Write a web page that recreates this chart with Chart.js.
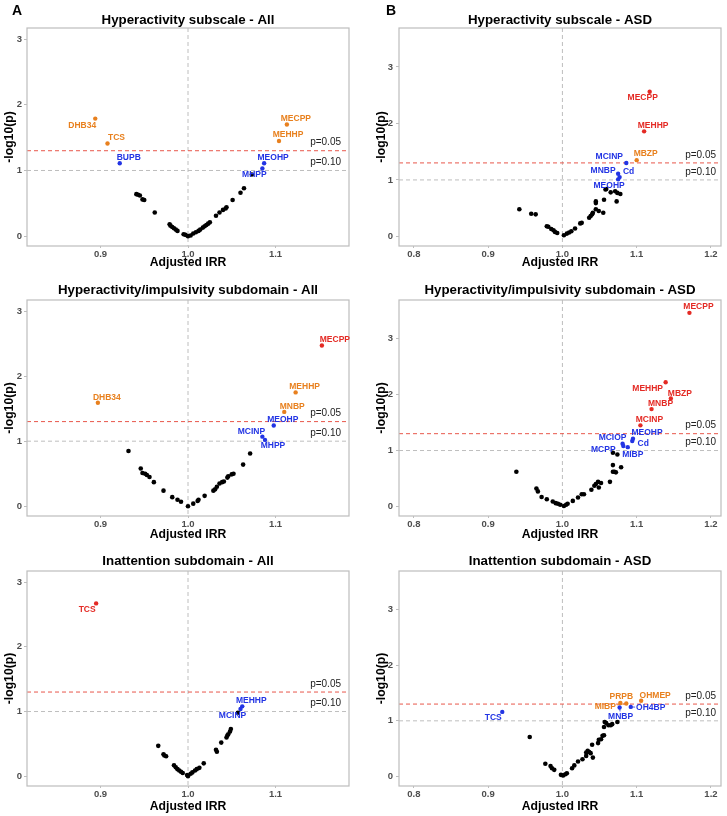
<!DOCTYPE html>
<html>
<head>
<meta charset="utf-8">
<script src="https://cdn.jsdelivr.net/npm/chart.js@4.4.1/dist/chart.umd.min.js"></script>
<style>
  body { margin: 0; background: #fff; }
  #fig { position: relative; width: 727px; height: 816px; }
  #fig canvas { position: absolute; }
  .tag { position: absolute; font: bold 14px 'Liberation Sans', Arial, sans-serif; line-height: 1; color: #000; }
</style>
</head>
<body>
<div id="fig">
  <canvas id="c0" width="363" height="272" style="left:0;top:0"></canvas>
  <canvas id="c1" width="364" height="272" style="left:363px;top:0"></canvas>
  <canvas id="c2" width="363" height="272" style="left:0;top:272px"></canvas>
  <canvas id="c3" width="364" height="272" style="left:363px;top:272px"></canvas>
  <canvas id="c4" width="363" height="272" style="left:0;top:544px"></canvas>
  <canvas id="c5" width="364" height="272" style="left:363px;top:544px"></canvas>
  <div class="tag" style="left:12px;top:3px">A</div>
  <div class="tag" style="left:386px;top:3px">B</div>
</div>
<script>
// ---- data ----
const irrTicksAll = [0.9, 1.0, 1.1];
const irrTicksAsd = [0.8, 0.9, 1.0, 1.1, 1.2];
const logpTicks = [0, 1, 2, 3];
const pCutoffs = [0.05, 0.10];
const pCutoffLabels = ["p=0.05", "p=0.10"];

// Hyperactivity subscale - All
const hypAllIRR = [0.941, 0.943, 0.945, 0.948, 0.950, 0.962, 0.979, 0.980, 0.982, 0.984, 0.986, 0.988, 0.995, 0.997, 1.000, 1.003, 1.006, 1.009, 1.012, 1.014, 1.017, 1.019, 1.021, 1.023, 1.025, 1.032, 1.036, 1.040, 1.043, 1.044, 1.051, 1.060, 1.064, 1.073];
const hypAllLogP = [0.64, 0.63, 0.62, 0.56, 0.55, 0.36, 0.18, 0.16, 0.14, 0.12, 0.10, 0.08, 0.03, 0.02, 0.00, 0.01, 0.04, 0.06, 0.08, 0.10, 0.13, 0.15, 0.17, 0.19, 0.21, 0.31, 0.36, 0.40, 0.42, 0.44, 0.55, 0.66, 0.73, 0.94];
const hypAllLabels = ["DHB34", "TCS", "BUPB", "MECPP", "MEHHP", "MEOHP", "MHPP"];
const hypAllLabIRR = [0.894, 0.908, 0.922, 1.113, 1.104, 1.087, 1.085];
const hypAllLabLogP = [1.79, 1.41, 1.11, 1.70, 1.45, 1.11, 1.03];
const hypAllLabGroup = ["p05", "p05", "p10", "p05", "p05", "p10", "p10"];

// Hyperactivity subscale - ASD
const hypAsdIRR = [0.942, 0.958, 0.964, 0.979, 0.981, 0.985, 0.988, 0.990, 0.993, 1.002, 1.006, 1.009, 1.012, 1.017, 1.024, 1.026, 1.036, 1.038, 1.040, 1.041, 1.045, 1.045, 1.045, 1.049, 1.055, 1.056, 1.058, 1.059, 1.065, 1.071, 1.073, 1.074, 1.078];
const hypAsdLogP = [0.48, 0.40, 0.39, 0.18, 0.17, 0.13, 0.11, 0.08, 0.06, 0.02, 0.05, 0.07, 0.09, 0.14, 0.23, 0.24, 0.33, 0.36, 0.39, 0.42, 0.48, 0.62, 0.59, 0.45, 0.42, 0.65, 0.83, 0.84, 0.78, 0.80, 0.62, 0.77, 0.75];
const hypAsdLabels = ["MECPP", "MEHHP", "MBZP", "MCINP", "MNBP", "Cd", "MEOHP"];
const hypAsdLabIRR = [1.1175, 1.110, 1.100, 1.086, 1.075, 1.077, 1.075];
const hypAsdLabLogP = [2.56, 1.86, 1.35, 1.30, 1.11, 1.05, 1.01];
const hypAsdLabGroup = ["q", "q", "p05", "p10", "p10", "p10", "p10"];

// Hyperactivity/impulsivity subdomain - All
const impAllIRR = [0.932, 0.946, 0.948, 0.951, 0.953, 0.956, 0.961, 0.972, 0.982, 0.988, 0.992, 1.000, 1.006, 1.011, 1.012, 1.019, 1.029, 1.031, 1.033, 1.036, 1.039, 1.041, 1.045, 1.046, 1.050, 1.052, 1.063, 1.071];
const impAllLogP = [0.85, 0.58, 0.51, 0.50, 0.48, 0.45, 0.37, 0.24, 0.14, 0.10, 0.07, 0.00, 0.04, 0.08, 0.10, 0.16, 0.24, 0.26, 0.30, 0.35, 0.37, 0.38, 0.44, 0.46, 0.49, 0.50, 0.64, 0.81];
const impAllLabels = ["MECPP", "MEHHP", "MNBP", "MEOHP", "MCINP", "MHPP", "DHB34"];
const impAllLabIRR = [1.153, 1.123, 1.110, 1.098, 1.085, 1.088, 0.897];
const impAllLabLogP = [2.47, 1.75, 1.45, 1.24, 1.07, 1.02, 1.59];
const impAllLabGroup = ["q", "p05", "p05", "p10", "p10", "p10", "p05"];

// Hyperactivity/impulsivity subdomain - ASD
const impAsdIRR = [0.938, 0.965, 0.967, 0.972, 0.979, 0.987, 0.991, 0.994, 0.997, 1.002, 1.005, 1.007, 1.014, 1.021, 1.026, 1.029, 1.039, 1.043, 1.045, 1.048, 1.049, 1.052, 1.064, 1.068, 1.068, 1.070, 1.072, 1.079, 1.068, 1.074];
const impAsdLogP = [0.62, 0.32, 0.27, 0.17, 0.13, 0.09, 0.06, 0.05, 0.03, 0.01, 0.03, 0.05, 0.10, 0.16, 0.22, 0.22, 0.30, 0.37, 0.40, 0.44, 0.34, 0.42, 0.44, 0.74, 0.62, 0.62, 0.61, 0.70, 0.96, 0.93];
const impAsdLabels = ["MECPP", "MEHHP", "MBZP", "MNBP", "MCINP", "MEOHP", "Cd", "MCIOP", "MCPP", "MIBP"];
const impAsdLabIRR = [1.171, 1.139, 1.146, 1.120, 1.105, 1.095, 1.094, 1.081, 1.082, 1.088];
const impAsdLabLogP = [3.46, 2.22, 1.93, 1.74, 1.45, 1.21, 1.17, 1.12, 1.08, 1.06];
const impAsdLabGroup = ["q", "q", "q", "q", "q", "p10", "p10", "p10", "p10", "p10"];

// Inattention subdomain - All
const inaAllIRR = [0.966, 0.972, 0.973, 0.975, 0.984, 0.986, 0.988, 0.990, 0.992, 0.994, 0.999, 1.000, 1.003, 1.005, 1.008, 1.010, 1.013, 1.018, 1.032, 1.033, 1.038, 1.044, 1.045, 1.046, 1.048, 1.049, 1.057];
const inaAllLogP = [0.47, 0.34, 0.32, 0.31, 0.17, 0.14, 0.11, 0.09, 0.07, 0.05, 0.02, 0.00, 0.04, 0.06, 0.09, 0.11, 0.13, 0.20, 0.41, 0.38, 0.52, 0.60, 0.63, 0.65, 0.69, 0.73, 0.98];
const inaAllLabels = ["TCS", "MEHHP", "MCINP"];
const inaAllLabIRR = [0.895, 1.062, 1.060];
const inaAllLabLogP = [2.67, 1.08, 1.04];
const inaAllLabGroup = ["q", "p10", "p10"];

// Inattention subdomain - ASD
const inaAsdIRR = [0.956, 0.977, 0.984, 0.986, 0.989, 0.998, 1.001, 1.004, 1.006, 1.013, 1.016, 1.021, 1.027, 1.032, 1.034, 1.036, 1.038, 1.032, 1.040, 1.041, 1.048, 1.049, 1.052, 1.054, 1.056, 1.057, 1.059, 1.056, 1.062, 1.065, 1.067, 1.074];
const inaAsdLogP = [0.71, 0.23, 0.19, 0.15, 0.12, 0.03, 0.02, 0.04, 0.06, 0.15, 0.20, 0.27, 0.31, 0.43, 0.46, 0.44, 0.42, 0.37, 0.57, 0.34, 0.60, 0.66, 0.67, 0.73, 0.74, 0.98, 0.96, 0.89, 0.92, 0.92, 0.94, 0.98];
const inaAsdLabels = ["TCS", "OHMEP", "PRPB", "MIBP", "MNBP", "OH4BP"];
const inaAsdLabIRR = [0.919, 1.106, 1.078, 1.086, 1.077, 1.092];
const inaAsdLabLogP = [1.16, 1.36, 1.32, 1.31, 1.24, 1.25];
const inaAsdLabGroup = ["p10", "p05", "p05", "p05", "p10", "p10"];

// ---- label placement (px offset of label centre from its point, optional leader line) ----
const hypAllNudge = [[-13, 7], [9, -6], [9, -6], [9, -6], [9, -6], [9, -6], [-8, 6]];
const hypAsdNudge = [[-7, 6], [9, -6], [9, -6], [-17, -6], [-15, -3], [9, -5], [-9, 6]];
const impAllNudge = [[13, -6], [9, -6], [8, -5], [9, -6], [-11, -5], [8, 6], [9, -5]];
const impAsdNudge = [[9, -6], [-18, 6], [9, -5], [9, -5], [9, -6], [14, -6], [11, 3], [-10, -6], [-20, 4], [5, 7]];
const inaAllNudge = [[-9, 6], [9, -6], [-8, 7]];
const inaAsdNudge = [[-9, 6], [14, -5], [1, -6], [-21, 3, true], [1, 9, true], [20, 1, true]];

// ---- styling ----
const FONT = "'Liberation Sans', Arial, sans-serif";
const groupColors = { q: "#E42A24", p05: "#E8801E", p10: "#2234E4" };
const lineGray = "#BEBEBE";
const lineRed = "#E8574B";

const rows = [
  { chartTop: 28, chartBottom: 246, titleMid: 20 },
  { chartTop: 28, chartBottom: 244, titleMid: 18 },
  { chartTop: 27, chartBottom: 242, titleMid: 17 },
];
const cols = [
  { yW: 27, padLeft: 0, padRight: 14, tickPad: 2, titlePad: 2.7, pInset: 8 },
  { yW: 28, padLeft: 8, padRight: 6, tickPad: 3, titlePad: 3.5, pInset: 5 },
];
const ranges = {
  all: { xMin: 0.816, xMax: 1.184, yMin: -0.15, yMax: 3.17, ticks: irrTicksAll },
  asd: { xMin: 0.78, xMax: 1.2135, yMin: -0.17, yMax: 3.69, ticks: irrTicksAsd },
};

const panels = [
  { id: "c0", title: "Hyperactivity subscale - All", set: "all", row: 0, col: 0,
    irr: hypAllIRR, logp: hypAllLogP, lab: hypAllLabels, labIRR: hypAllLabIRR, labLogP: hypAllLabLogP, labGroup: hypAllLabGroup, nudge: hypAllNudge },
  { id: "c1", title: "Hyperactivity subscale - ASD", set: "asd", row: 0, col: 1,
    irr: hypAsdIRR, logp: hypAsdLogP, lab: hypAsdLabels, labIRR: hypAsdLabIRR, labLogP: hypAsdLabLogP, labGroup: hypAsdLabGroup, nudge: hypAsdNudge },
  { id: "c2", title: "Hyperactivity/impulsivity subdomain - All", set: "all", row: 1, col: 0,
    irr: impAllIRR, logp: impAllLogP, lab: impAllLabels, labIRR: impAllLabIRR, labLogP: impAllLabLogP, labGroup: impAllLabGroup, nudge: impAllNudge },
  { id: "c3", title: "Hyperactivity/impulsivity subdomain - ASD", set: "asd", row: 1, col: 1,
    irr: impAsdIRR, logp: impAsdLogP, lab: impAsdLabels, labIRR: impAsdLabIRR, labLogP: impAsdLabLogP, labGroup: impAsdLabGroup, nudge: impAsdNudge },
  { id: "c4", title: "Inattention subdomain - All", set: "all", row: 2, col: 0,
    irr: inaAllIRR, logp: inaAllLogP, lab: inaAllLabels, labIRR: inaAllLabIRR, labLogP: inaAllLabLogP, labGroup: inaAllLabGroup, nudge: inaAllNudge },
  { id: "c5", title: "Inattention subdomain - ASD", set: "asd", row: 2, col: 1,
    irr: inaAsdIRR, logp: inaAsdLogP, lab: inaAsdLabels, labIRR: inaAsdLabIRR, labLogP: inaAsdLabLogP, labGroup: inaAsdLabGroup, nudge: inaAsdNudge },
];
const panelById = {};
panels.forEach(p => { panelById[p.id] = p; });

// dashed reference lines, panel border, p labels and point labels
const volcanoDecor = {
  id: "volcanoDecor",
  beforeDatasetsDraw(chart) {
    const p = panelById[chart.canvas.id];
    const { ctx, chartArea: a, scales: { x, y } } = chart;
    ctx.save();
    ctx.lineWidth = 1;
    ctx.setLineDash([4, 3]);
    const vx = x.getPixelForValue(1);
    ctx.strokeStyle = lineGray;
    ctx.beginPath(); ctx.moveTo(vx, a.top); ctx.lineTo(vx, a.bottom); ctx.stroke();
    ctx.font = "10px " + FONT;
    ctx.textAlign = "right";
    ctx.textBaseline = "middle";
    pCutoffs.forEach((pc, i) => {
      const hy = y.getPixelForValue(-Math.log10(pc));
      ctx.strokeStyle = i === 0 ? lineRed : lineGray;
      ctx.beginPath(); ctx.moveTo(a.left, hy); ctx.lineTo(a.right, hy); ctx.stroke();
      ctx.fillStyle = "#222";
      ctx.fillText(pCutoffLabels[i], a.right - cols[p.col].pInset, hy - 8);
    });
    ctx.setLineDash([]);
    ctx.strokeStyle = "#BDBDBD";
    ctx.lineWidth = 1.2;
    ctx.strokeRect(a.left, a.top, a.right - a.left, a.bottom - a.top);
    ctx.restore();
  },
  afterDatasetsDraw(chart) {
    const p = panelById[chart.canvas.id];
    const { ctx } = chart;
    const meta = chart.getDatasetMeta(1);
    ctx.save();
    ctx.font = "bold 8.5px " + FONT;
    ctx.textAlign = "center";
    ctx.textBaseline = "middle";
    p.lab.forEach((name, i) => {
      const pt = meta.data[i];
      const nd = p.nudge[i];
      const lx = pt.x + nd[0], ly = pt.y + nd[1];
      const col = groupColors[p.labGroup[i]];
      if (nd[2]) {
        const hw = ctx.measureText(name).width / 2 + 1, hh = 5;
        const dx = pt.x - lx, dy = pt.y - ly;
        const s = Math.min(dx ? hw / Math.abs(dx) : 99, dy ? hh / Math.abs(dy) : 99);
        ctx.strokeStyle = col;
        ctx.lineWidth = 0.8;
        ctx.beginPath(); ctx.moveTo(pt.x, pt.y); ctx.lineTo(lx + dx * s, ly + dy * s); ctx.stroke();
      }
      ctx.fillStyle = col;
      ctx.fillText(name, lx, ly);
    });
    ctx.restore();
  },
};

panels.forEach(p => {
  const r = rows[p.row], c = cols[p.col], rg = ranges[p.set];
  const titleLH = 13.3 * 1.2;
  new Chart(document.getElementById(p.id), {
    type: "scatter",
    data: {
      datasets: [
        {
          data: p.irr.map((v, i) => ({ x: v, y: p.logp[i] })),
          backgroundColor: "#000",
          borderWidth: 0,
          pointRadius: 2.3,
        },
        {
          data: p.labIRR.map((v, i) => ({ x: v, y: p.labLogP[i] })),
          backgroundColor: p.labGroup.map(g => groupColors[g]),
          borderWidth: 0,
          pointRadius: 2.2,
        },
      ],
    },
    options: {
      responsive: false,
      animation: false,
      events: [],
      layout: { padding: { left: c.padLeft, right: c.padRight, top: 0, bottom: 0 } },
      plugins: {
        legend: { display: false },
        tooltip: { enabled: false },
        title: {
          display: true,
          fullSize: false,
          text: p.title,
          color: "#000",
          font: { family: FONT, size: 13.3, weight: "bold" },
          padding: { top: r.titleMid - titleLH / 2, bottom: r.chartTop - r.titleMid - titleLH / 2 },
        },
      },
      scales: {
        x: {
          type: "linear",
          min: rg.xMin,
          max: rg.xMax,
          afterBuildTicks: s => { s.ticks = rg.ticks.map(v => ({ value: v })); },
          afterFit: s => { s.height = 272 - r.chartBottom; },
          ticks: {
            callback: v => v.toFixed(1),
            color: "#4D4D4D",
            font: { family: FONT, size: 9.5, weight: "bold" },
            padding: 1,
            maxRotation: 0,
            autoSkip: false,
          },
          grid: { drawOnChartArea: false, tickLength: 2, color: "#BDBDBD" },
          border: { display: false },
          title: {
            display: true,
            text: "Adjusted IRR",
            color: "#000",
            font: { family: FONT, size: 12.2, weight: "bold" },
            padding: { top: 0, bottom: 1.7 },
          },
        },
        y: {
          type: "linear",
          min: rg.yMin,
          max: rg.yMax,
          afterBuildTicks: s => { s.ticks = logpTicks.map(v => ({ value: v })); },
          afterFit: s => { s.width = c.yW; },
          ticks: {
            callback: v => String(v),
            color: "#4D4D4D",
            font: { family: FONT, size: 9.5, weight: "bold" },
            padding: c.tickPad,
            autoSkip: false,
          },
          grid: { drawOnChartArea: false, tickLength: 3, color: "#BDBDBD" },
          border: { display: false },
          title: {
            display: true,
            text: "-log10(p)",
            color: "#000",
            font: { family: FONT, size: 12.2, weight: "bold" },
            padding: { top: c.titlePad, bottom: 0 },
          },
        },
      },
    },
    plugins: [volcanoDecor],
  });
});
</script>
</body>
</html>
